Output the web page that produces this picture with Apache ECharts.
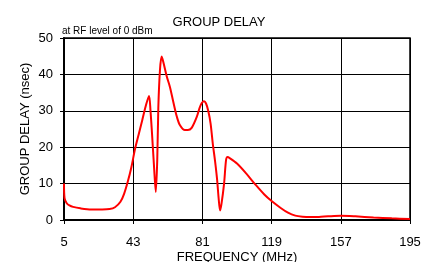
<!DOCTYPE html>
<html>
<head>
<meta charset="utf-8">
<script src="https://cdn.jsdelivr.net/npm/echarts@6/dist/echarts.min.js"></script>
<style>
html, body { margin: 0; padding: 0; background: #fff; }
#chart { width: 438px; height: 262px; }
</style>
</head>
<body>
<div id="chart"></div>
<script>
// frequency (MHz) and group delay (nsec)
var freq = [5, 5.3, 6.5, 8, 10, 14, 20, 26, 30, 33, 36, 38, 40, 42, 44, 46, 48, 50, 51.7, 52.5, 53.3, 54.4, 55.4, 56.2, 56.8, 57.7, 58.6, 59.5, 61.4, 63.2, 65, 66.9, 68.7, 71.4, 73, 75.1, 77.9, 80, 81.9, 83, 84.2, 85.5, 86.7, 88, 89, 90, 90.7, 91.5, 92.9, 94, 94.8, 96, 100, 105, 110, 115, 119, 124, 128, 132, 136, 140, 145, 150, 157, 165, 175, 185, 195];
var delay = [10, 6, 4.6, 4.0, 3.6, 3.2, 2.9, 2.9, 3.0, 3.5, 5, 7.2, 10.5, 14.5, 19.5, 23.5, 27.5, 31.5, 34.1, 30, 24, 15, 7.7, 16.4, 31, 41.2, 44.9, 43.5, 39.5, 36.5, 32.5, 28.5, 26, 24.7, 24.7, 25.3, 28.3, 31.5, 32.6, 32, 30, 26.5, 21, 16, 11.5, 5.5, 2.6, 4.5, 10, 16.5, 17.3, 17, 15.5, 12.8, 9.8, 7, 5.2, 3.3, 2, 1.2, 0.9, 0.8, 0.85, 1.0, 1.15, 1.0, 0.7, 0.45, 0.25];
var xTicks = [5, 43, 81, 119, 157, 195];
var yTicks = [0, 10, 20, 30, 40, 50];

var xStart = xTicks[0]; // axis is drawn from 0 so ticks land on 5, 43, ...
var points = freq.map(function (f, i) { return [f - xStart, delay[i]]; });

var font = 'Liberation Sans';
var chart = echarts.init(document.getElementById('chart'));
chart.setOption({
	animation: false,
	textStyle: { fontFamily: font },
	title: [
		{
			text: 'GROUP DELAY',
			left: 'center',
			top: 11,
			textStyle: { fontFamily: font, fontSize: 13, fontWeight: 'normal', color: '#000' }
		},
		{
			text: 'at RF level of 0 dBm',
			left: 62,
			top: 26,
			padding: 0,
			textStyle: { fontFamily: font, fontSize: 10, fontWeight: 'normal', color: '#000' }
		}
	],
	grid: {
		left: 64, right: 28, top: 38, bottom: 42,
		outerBoundsMode: 'none',
		containLabel: false,
		show: true,
		borderColor: '#000',
		borderWidth: 1.5
	},
	xAxis: {
		type: 'value',
		min: 0,
		max: xTicks[xTicks.length - 1] - xStart,
		interval: xTicks[1] - xTicks[0],
		name: 'FREQUENCY (MHz)',
		nameLocation: 'middle',
		nameGap: 31,
		nameMoveOverlap: false,
		nameTextStyle: { fontFamily: font, fontSize: 13, color: '#000' },
		axisLine: { lineStyle: { color: '#000', width: 2 } },
		axisTick: { show: true, length: 4, lineStyle: { color: '#000' } },
		axisLabel: {
			fontFamily: font, fontSize: 13, color: '#000', margin: 16,
			formatter: function (v) { return String(v + xStart); }
		},
		splitLine: { show: true, lineStyle: { color: '#000', width: 1 } }
	},
	yAxis: {
		type: 'value',
		min: yTicks[0],
		max: yTicks[yTicks.length - 1],
		interval: 10,
		name: 'GROUP DELAY (nsec)',
		nameLocation: 'middle',
		nameGap: 32,
		nameMoveOverlap: false,
		nameTextStyle: { fontFamily: font, fontSize: 13, color: '#000' },
		axisLine: { show: true, lineStyle: { color: '#000', width: 2 } },
		axisTick: { show: true, length: 4, lineStyle: { color: '#000' } },
		axisLabel: { fontFamily: font, fontSize: 13, color: '#000', margin: 11 },
		splitLine: { show: true, lineStyle: { color: '#000', width: 1 } }
	},
	series: [
		{
			type: 'line',
			data: points,
			smooth: 0.3,
			symbol: 'none',
			lineStyle: { color: '#ff0000', width: 2 }
		}
	]
});
</script>
</body>
</html>
